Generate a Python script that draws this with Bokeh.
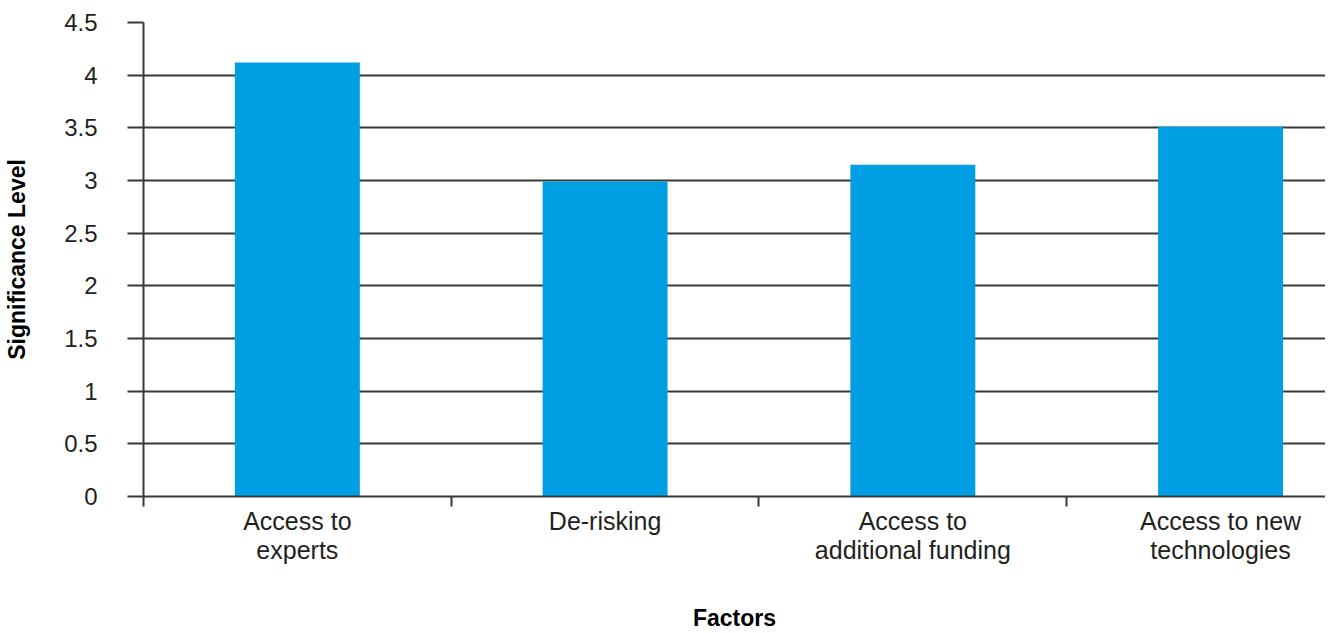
from bokeh.plotting import figure
from bokeh.models import Range1d, FixedTicker
from bokeh.embed import file_html
from bokeh.resources import INLINE

categories = ["Access to\nexperts", "De-risking", "Access to\nadditional funding", "Access to new\ntechnologies"]
values = [4.12, 2.99, 3.15, 3.51]
y_ticks = [0, 0.5, 1, 1.5, 2, 2.5, 3, 3.5, 4, 4.5]
y_tick_labels = ["0", "0.5", "1", "1.5", "2", "2.5", "3", "3.5", "4", "4.5"]

centers = [i + 0.5 for i in range(len(categories))]
bounds = [float(i) for i in range(len(categories))]

FONT = "Liberation Sans"
DARK = "#3a3836"
TEXT = "#231f20"

p = figure(width=1325, height=633, output_backend="svg", toolbar_location=None,
           x_range=Range1d(0, 3.841), y_range=Range1d(0, 4.5),
           min_border_left=143, min_border_right=0, min_border_top=22, min_border_bottom=137)
p.outline_line_color = None
p.background_fill_color = "white"

p.vbar(x=centers, top=values, width=0.406, bottom=0, fill_color="#009FE3", line_color=None)

# grid
p.xgrid.grid_line_color = None
p.ygrid.ticker = FixedTicker(ticks=y_ticks)
p.ygrid.grid_line_color = DARK
p.ygrid.grid_line_width = 2

# y axis
ya = p.yaxis[0]
ya.ticker = FixedTicker(ticks=y_ticks)
ya.major_label_overrides = {t: l for t, l in zip(y_ticks, y_tick_labels)}
ya.axis_line_color = DARK
ya.axis_line_width = 2
ya.major_tick_line_color = DARK
ya.major_tick_line_width = 2
ya.major_tick_in = 0
ya.major_tick_out = 16
ya.minor_tick_line_color = None
ya.major_label_text_font = FONT
ya.major_label_text_font_size = "24px"
ya.major_label_text_color = TEXT
ya.major_label_standoff = 30
ya.axis_label = "Significance Level"
ya.axis_label_text_font = FONT
ya.axis_label_text_font_style = "bold"
ya.axis_label_text_font_size = "23px"
ya.axis_label_text_color = "black"
ya.axis_label_standoff = 31

# x axis
xa = p.xaxis[0]
xa.ticker = FixedTicker(ticks=centers, minor_ticks=bounds)
xa.major_label_overrides = {c: l for c, l in zip(centers, categories)}
xa.axis_line_color = DARK
xa.axis_line_width = 2
xa.major_tick_line_color = None
xa.major_tick_in = 0
xa.major_tick_out = 0
xa.minor_tick_line_color = DARK
xa.minor_tick_line_width = 2
xa.minor_tick_in = 0
xa.minor_tick_out = 10
xa.major_label_text_font = FONT
xa.major_label_text_font_size = "25px"
xa.major_label_text_line_height = 1.05
xa.major_label_text_color = TEXT
xa.major_label_standoff = 0
xa.axis_label = "Factors"
xa.axis_label_text_font = FONT
xa.axis_label_text_font_style = "bold"
xa.axis_label_text_font_size = "23px"
xa.axis_label_text_color = "black"
xa.axis_label_standoff = 38

open("out.html", "w").write(file_html(p, INLINE))
